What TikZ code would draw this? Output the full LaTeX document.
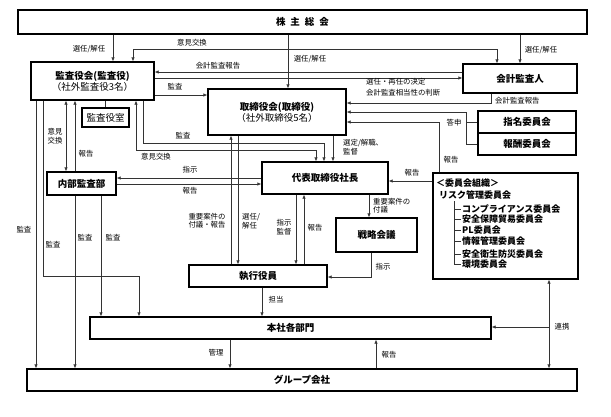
\documentclass[tikz,border=0pt]{standalone}
\usepackage{fontspec}
\setmainfont{Noto Sans CJK JP}
\usetikzlibrary{arrows.meta}

\tikzset{
  box/.style={draw, line width=1.1pt, rectangle, inner sep=0pt, align=center,
    font=\fontsize{9.5}{12}\selectfont\bfseries},
  conn/.style={draw=black!80, line width=0.6pt},
  lbl/.style={inner sep=0pt, font=\fontsize{7.4}{8.4}\selectfont, align=center},
  item/.style={inner sep=0pt, anchor=west, font=\fontsize{9}{10}\selectfont\bfseries},
  >={Latex[length=4pt,width=3.2pt]}
}

\begin{document}
\begin{tikzpicture}[x=1pt, y=-1pt]
  \useasboundingbox (0,0) rectangle (611,416);

  % boxes
  \node[box, minimum width=569pt, minimum height=24pt] (kabu) at (302.5,22) {株\hspace{5pt}主\hspace{5pt}総\hspace{5pt}会};
  \node[box, minimum width=123pt, minimum height=38pt] (kansa) at (92.5,81)
    {監査役会(監査役)\\[-1pt]{\mdseries （社外監査役3名）}};
  \node[box, minimum width=47pt, minimum height=19pt] (kanshitsu) at (105.5,117.5) {\mdseries 監査役室};
  \node[box, minimum width=138pt, minimum height=46pt] (tori) at (277,112)
    {取締役会(取締役)\\[-1pt]{\mdseries （社外取締役5名）}};
  \node[box, minimum width=114pt, minimum height=29pt] (kaikei) at (520,78.5) {会計監査人};
  \node[box, minimum width=98pt, minimum height=22pt] (shimei) at (527,122) {指名委員会};
  \node[box, minimum width=98pt, minimum height=22pt] (houshu) at (527,144) {報酬委員会};
  \node[box, minimum width=69pt, minimum height=23pt] (naibu) at (81.5,183.5) {内部監査部};
  \node[box, minimum width=126pt, minimum height=32pt] (shacho) at (325,178) {代表取締役社長};
  \node[box, minimum width=81pt, minimum height=34pt] (senryaku) at (376.5,235) {戦略会議};
  \node[box, minimum width=145pt, minimum height=106pt] (iinkai) at (505.5,226) {};
  \node[box, minimum width=138pt, minimum height=22pt] (shikko) at (258,276) {執行役員};
  \node[box, minimum width=401pt, minimum height=22pt] (honsha) at (290.5,328) {本社各部門};
  \node[box, minimum width=550pt, minimum height=22pt] (group) at (302,380) {グループ会社};

  % committees
  \node[item] (soshiki) at (436,183) {＜委員会組織＞};
  \node[item] (risk) at (439,195) {リスク管理委員会};
  \draw[conn] (454,201) -- (454,264);
  \foreach \y/\name/\txt in {209/comp/コンプライアンス委員会, 219/hosho/安全保障貿易委員会,
      230/pl/PL委員会, 241/joho/情報管理委員会, 254/eisei/安全衛生防災委員会, 264/kankyo/環境委員会} {
    \draw[conn] (454,\y) -- (461,\y);
    \node[item] (\name) at (462,\y) {\txt};
  }

  % shareholders' meeting
  \draw[conn,->] (kabu.south -| 113,0) -- (kansa.north -| 113,0);
  \draw[conn,->] (kabu.south -| 288,0) -- (tori.north -| 288,0);
  \draw[conn,->] (kabu.south -| 520,0) -- (kaikei.north -| 520,0);
  \node[lbl] (l-sennin1) at (89,49) {選任/解任};
  \node[lbl] (l-sennin2) at (310,59) {選任/解任};
  \node[lbl] (l-sennin3) at (541,50) {選任/解任};

  % auditors and accounting auditor
  \draw[conn,<->] (kansa.north -| 133,0) -- (133,49) -| (kaikei.north -| 497,0);
  \node[lbl] (l-iken1) at (192,43) {意見交換};
  \draw[conn,->] (kaikei.west |- 0,72) -- (kansa.east |- 0,72);
  \node[lbl] (l-houkoku1) at (218,66) {会計監査報告};
  \draw[conn,->] (kansa.east |- 0,78) -- (kaikei.west |- 0,78);
  \node[lbl, anchor=west] (l-kettei) at (366,82) {選任・再任の決定};
  \node[lbl, anchor=west] (l-handan) at (366,93) {会計監査相当性の判断};
  \draw[conn,->] (kansa.east |- 0,95) -- (tori.west |- 0,95);
  \node[lbl] (l-kansa1) at (175,87) {監査};
  \draw[conn,->] (kaikei.south -| 491,0) |- (tori.east |- 0,103);
  \node[lbl, anchor=west] (l-houkoku2) at (495,101) {会計監査報告};

  % nomination and remuneration
  \draw[conn,->] (houshu.west) -| (466,112) -- (tori.east |- 0,112);
  \draw[conn] (shimei.west) -- (shimei.west -| 466,0);
  \node[lbl] (l-toushin) at (454,123) {答申};
  \draw[conn,->] (iinkai.north -| 439,0) |- (tori.east |- 0,122);
  \node[lbl] (l-houkoku3) at (451,160) {報告};
  \draw[conn,->] (iinkai.west |- 0,181) -- (shacho.east |- 0,181);
  \node[lbl] (l-houkoku4) at (412,173) {報告};

  % audit lines
  \draw[conn] (kansa.south -| 105,0) -- (kanshitsu.north -| 105,0);
  \draw[conn,->] (kansa.south -| 36,0) -- (group.north -| 36,0);
  \node[lbl] (l-kansa2) at (24,230) {監査};
  \draw[conn,->] (kansa.south -| 43,0) -- (43,276) -| (honsha.north -| 139,0);
  \node[lbl] (l-kansa3) at (53,245) {監査};
  \draw[conn,<->] (kansa.south -| 66,0) -- (naibu.north -| 66,0);
  \node[lbl] (l-iken2) at (55,136) {意見\\交換};
  \draw[conn,->] (naibu.north -| 75,0) -- (kansa.south -| 75,0);
  \node[lbl] (l-houkoku5) at (86,154) {報告};
  \draw[conn,<->] (kansa.south -| 136,0) -- (136,150) -| (shacho.north -| 316,0);
  \node[lbl] (l-iken3) at (156,157) {意見交換};
  \draw[conn,->] (kansa.south -| 143,0) -- (143,143) -| (shacho.north -| 324,0);
  \node[lbl] (l-kansa4) at (183,136) {監査};

  % board and president
  \draw[conn,->] (tori.south -| 333,0) -- (shacho.north -| 333,0);
  \node[lbl, anchor=west, align=left] (l-sentei) at (343,147) {選定/解職、\\監督};
  \draw[conn,->] (shikko.north -| 231,0) -- (tori.south -| 231,0);
  \node[lbl] (l-fugi1) at (207,221) {重要案件の\\付議・報告};
  \draw[conn,->] (tori.south -| 238,0) -- (shikko.north -| 238,0);
  \node[lbl, anchor=west, align=left] (l-sennin4) at (242,221) {選任/\\解任};

  % internal audit department
  \draw[conn,->] (shacho.west |- 0,178) -- (naibu.east |- 0,178);
  \node[lbl] (l-shiji1) at (190,170) {指示};
  \draw[conn,->] (naibu.east |- 0,184) -- (shacho.west |- 0,184);
  \node[lbl] (l-houkoku6) at (190,191) {報告};
  \draw[conn,->] (naibu.south -| 75,0) -- (group.north -| 75,0);
  \node[lbl] (l-kansa5) at (85,238) {監査};
  \draw[conn,->] (naibu.south -| 101,0) -- (honsha.north -| 101,0);
  \node[lbl] (l-kansa6) at (113,238) {監査};

  % president and officers
  \draw[conn,->] (shacho.south -| 296,0) -- (shikko.north -| 296,0);
  \node[lbl] (l-shiji2) at (284,227) {指示\\監督};
  \draw[conn,->] (shikko.north -| 304,0) -- (shacho.south -| 304,0);
  \node[lbl] (l-houkoku7) at (315,228) {報告};
  \draw[conn,->] (shacho.south -| 369,0) -- (senryaku.north -| 369,0);
  \node[lbl, anchor=west, align=left] (l-fugi2) at (373,206) {重要案件の\\付議};
  \draw[conn,->] (senryaku.south -| 371,0) |- (shikko.east |- 0,277);
  \node[lbl] (l-shiji3) at (383,267) {指示};

  % head office and group
  \draw[conn,->] (shikko.south -| 262,0) -- (honsha.north -| 262,0);
  \node[lbl] (l-tantou) at (276,300) {担当};
  \draw[conn,->] (honsha.south -| 230,0) -- (group.north -| 230,0);
  \node[lbl] (l-kanri) at (216,353) {管理};
  \draw[conn,->] (group.north -| 376,0) -- (honsha.south -| 376,0);
  \node[lbl] (l-houkoku8) at (389,355) {報告};
  \draw[conn,<->] (iinkai.south -| 549,0) -- (group.north -| 549,0);
  \coordinate (renkei) at (549,327);
  \draw[conn,->] (renkei) -- (honsha.east |- renkei);
  \node[lbl] (l-renkei) at (562,327) {連携};
\end{tikzpicture}
\end{document}
